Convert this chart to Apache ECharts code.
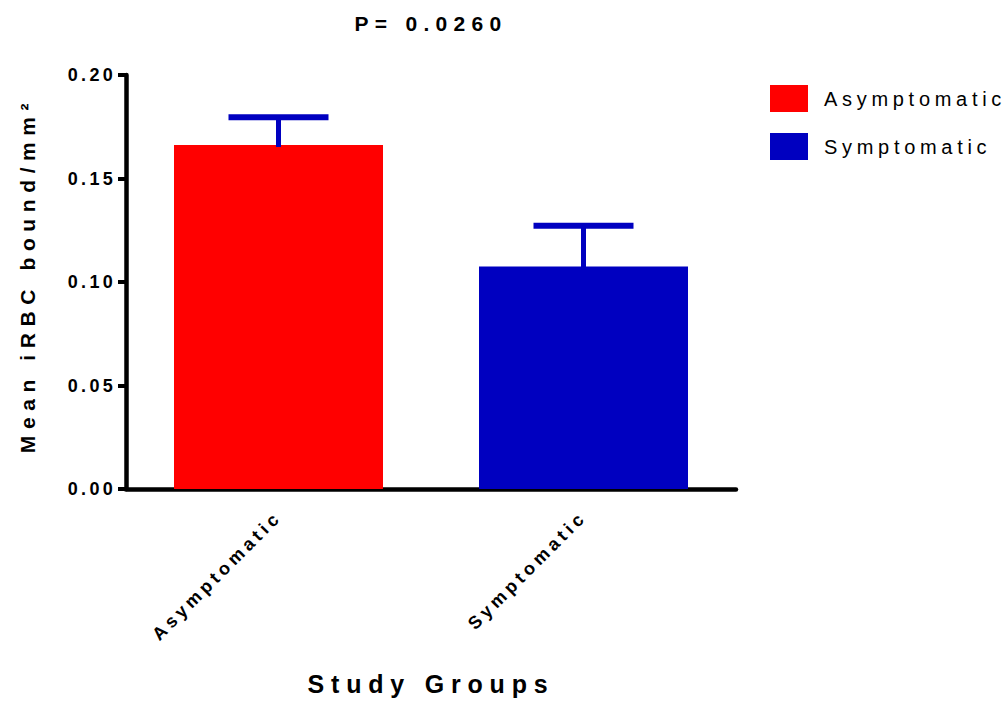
<!DOCTYPE html>
<html>
<head>
<meta charset="utf-8">
<script src="https://cdn.jsdelivr.net/npm/echarts@6/dist/echarts.min.js"></script>
<style>
  html, body { margin: 0; padding: 0; background: #ffffff; }
  #chart { width: 1006px; height: 702px; }
</style>
</head>
<body>
<div id="chart"></div>
<script>
// Study groups and the mean iRBC binding per group (with SEM)
const categories = ['Asymptomatic', 'Symptomatic'];
const meanValues = [0.1662, 0.1075];
const semValues = [0.0134, 0.0197];
const yTicks = [0.00, 0.05, 0.10, 0.15, 0.20];
const titleText = 'P= 0.0260';
const xAxisName = 'Study Groups';
const yAxisName = 'Mean iRBC bound/mm\u00B2';

const RED = '#FF0000';
const BLUE = '#0000C0';
const FONT = '"Liberation Sans", Arial, Helvetica, sans-serif';

const chart = echarts.init(document.getElementById('chart'), null, { renderer: 'svg' });

const errorData = categories.map((c, i) => [i, meanValues[i], meanValues[i] + semValues[i]]);

const option = {
  backgroundColor: '#ffffff',
  animation: false,
  title: {
    text: titleText,
    left: 431,
    top: 13,
    textAlign: 'center',
    padding: 0,
    textStyle: { fontFamily: FONT, fontSize: 21, fontWeight: 'bold', color: '#000' }
  },
  legend: {
    orient: 'vertical',
    left: 770,
    top: 85,
    padding: 0,
    itemWidth: 38,
    itemHeight: 27,
    itemGap: 21,
    selectedMode: false,
    icon: 'rect',
    data: categories,
    textStyle: { fontFamily: FONT, fontSize: 20, color: '#000', padding: [6, 0, 0, 11] }
  },
  grid: { left: 126, top: 75, width: 610, height: 414, containLabel: false },
  xAxis: {
    type: 'category',
    data: categories,
    name: xAxisName,
    nameLocation: 'middle',
    nameGap: 182,
    nameTextStyle: { fontFamily: FONT, fontSize: 25, fontWeight: 'bold', color: '#000' },
    axisLine: { lineStyle: { color: '#000', width: 4.5 } },
    axisTick: { alignWithLabel: true, length: 8, lineStyle: { color: '#000', width: 4 } },
    axisLabel: {
      rotate: 45,
      margin: 25,
      padding: [8, 0, 0, 0],
      fontFamily: FONT, fontSize: 18, fontWeight: 'bold', color: '#000'
    }
  },
  yAxis: {
    type: 'value',
    min: yTicks[0],
    max: yTicks[yTicks.length - 1],
    interval: yTicks[1] - yTicks[0],
    name: yAxisName,
    nameLocation: 'middle',
    nameGap: 88,
    nameTextStyle: { fontFamily: FONT, fontSize: 21, fontWeight: 'bold', color: '#000', padding: [0, 0, 0, 14] },
    splitLine: { show: false },
    axisLine: { show: true, lineStyle: { color: '#000', width: 4.5 } },
    axisTick: { show: true, length: 8, lineStyle: { color: '#000', width: 4 } },
    axisLabel: {
      margin: 10,
      formatter: v => v.toFixed(2),
      fontFamily: FONT, fontSize: 18, fontWeight: 'bold', color: '#000'
    }
  },
  series: [
    {
      name: categories[0],
      type: 'bar',
      barWidth: 209,
      barGap: '-100%',
      itemStyle: { color: RED },
      data: [meanValues[0], '-']
    },
    {
      name: categories[1],
      type: 'bar',
      barWidth: 209,
      barGap: '-100%',
      itemStyle: { color: BLUE },
      data: ['-', meanValues[1]]
    },
    {
      name: 'SEM',
      type: 'custom',
      z: 10,
      encode: { x: 0, y: [1, 2] },
      data: errorData,
      renderItem: function (params, api) {
        const base = api.coord([api.value(0), api.value(1)]);
        const top = api.coord([api.value(0), api.value(2)]);
        const halfCap = 50;
        return {
          type: 'group',
          children: [
            {
              type: 'line',
              shape: { x1: base[0], y1: base[1] + 2, x2: top[0], y2: top[1] },
              style: { stroke: BLUE, lineWidth: 5 }
            },
            {
              type: 'line',
              shape: { x1: top[0] - halfCap, y1: top[1], x2: top[0] + halfCap, y2: top[1] },
              style: { stroke: BLUE, lineWidth: 6 }
            }
          ]
        };
      }
    }
  ]
};

// Wide tracking on the texts, in px
function spacingFor(el) {
  const t = el.textContent;
  const bold = parseInt(getComputedStyle(el).fontWeight, 10) >= 600;
  if (t === titleText) return 6.3;
  if (t === yAxisName) return 6.6;
  if (t === xAxisName) return 6.8;
  if (categories.indexOf(t) >= 0) return bold ? 4.2 : 4.7;
  if (/^\d\.\d\d$/.test(t)) return 3.3;
  return 0;
}

function applyLetterSpacing() {
  document.querySelectorAll('#chart svg text').forEach(el => {
    const sp = spacingFor(el);
    if (sp) el.style.letterSpacing = sp + 'px';
  });
}

chart.on('finished', applyLetterSpacing);
chart.setOption(option);
applyLetterSpacing();
</script>
</body>
</html>
